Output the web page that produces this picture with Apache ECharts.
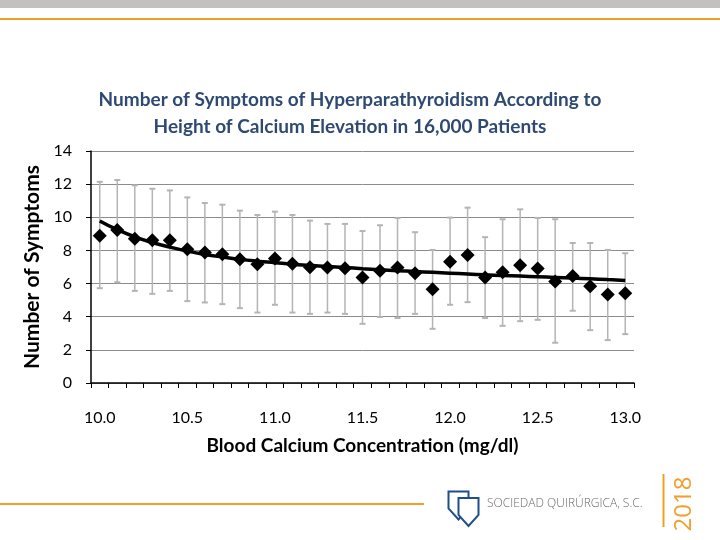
<!DOCTYPE html>
<html>
<head>
<meta charset="utf-8">
<script src="https://cdn.jsdelivr.net/npm/echarts@6/dist/echarts.min.js"></script>
<style>html,body{margin:0;padding:0;background:#fff;}#c{width:720px;height:540px;}</style>
</head>
<body>
<div id="c"></div>
<script>
const categories = ['10.0','10.1','10.2','10.3','10.4','10.5','10.6','10.7','10.8','10.9','11.0','11.1','11.2','11.3','11.4','11.5','11.6','11.7','11.8','11.9','12.0','12.1','12.2','12.3','12.4','12.5','12.6','12.7','12.8','12.9','13.0'];
const means = [8.89, 9.23, 8.71, 8.61, 8.61, 8.07, 7.87, 7.77, 7.47, 7.17, 7.51, 7.19, 6.99, 6.97, 6.93, 6.36, 6.77, 6.97, 6.62, 5.66, 7.31, 7.73, 6.36, 6.69, 7.11, 6.91, 6.12, 6.46, 5.84, 5.34, 5.42];
const upper = [12.14, 12.25, 11.93, 11.72, 11.62, 11.2, 10.86, 10.76, 10.4, 10.14, 10.34, 10.14, 9.8, 9.6, 9.6, 9.17, 9.52, 9.96, 9.1, 8.03, 9.98, 10.58, 8.8, 9.88, 10.48, 9.96, 9.88, 8.45, 8.45, 8.03, 7.83];
const lower = [5.72, 6.08, 5.56, 5.38, 5.56, 4.94, 4.86, 4.76, 4.52, 4.25, 4.72, 4.25, 4.17, 4.25, 4.17, 3.57, 3.98, 3.92, 4.17, 3.27, 4.72, 4.88, 3.92, 3.45, 3.73, 3.81, 2.43, 4.36, 3.19, 2.59, 2.95];
const trend = [9.78, 9.25, 8.82, 8.48, 8.2, 7.96, 7.76, 7.6, 7.46, 7.35, 7.26, 7.17, 7.1, 7.03, 6.97, 6.9, 6.84, 6.78, 6.73, 6.68, 6.63, 6.58, 6.53, 6.49, 6.45, 6.41, 6.37, 6.33, 6.29, 6.24, 6.19];
const yTicks = [0, 2, 4, 6, 8, 10, 12, 14];

const chart = echarts.init(document.getElementById('c'));
const errData = categories.map((c, i) => [i, lower[i], upper[i]]);

function shield(x, y, w, h) {
  return [[x, y], [x + w, y], [x + w, y + h * 0.6], [x + w / 2, y + h], [x, y + h * 0.6]];
}

chart.setOption({
  animation: false,
  title: {
    text: 'Number of Symptoms of Hyperparathyroidism According to\nHeight of Calcium Elevation in 16,000 Patients',
    left: 345, top: 81, textAlign: 'center',
    textStyle: { fontFamily: 'Lato', fontSize: 19, fontWeight: 'bold', color: '#2E4A73', lineHeight: 27 }
  },
  grid: { left: 91, right: 86, top: 151, bottom: 157 },
  xAxis: {
    type: 'category', data: categories, boundaryGap: true,
    name: 'Blood Calcium Concentration (mg/dl)', nameLocation: 'middle', nameGap: 53,
    nameTextStyle: { fontFamily: 'Lato', fontSize: 19, fontWeight: 'bold', color: '#000' },
    axisLine: { lineStyle: { color: '#000', width: 1.5 } },
    axisTick: { show: true, interval: 0, length: 5, lineStyle: { color: '#000' } },
    axisLabel: { interval: 4, fontFamily: 'Lato', fontSize: 16, color: '#000', margin: 27 },
    splitLine: { show: false }
  },
  yAxis: {
    type: 'value', min: 0, max: 14, interval: 2,
    name: 'Number of Symptoms', nameLocation: 'middle', nameGap: 45,
    nameTextStyle: { fontFamily: 'Lato', fontSize: 21, fontWeight: 'bold', color: '#000' },
    axisLine: { show: true, lineStyle: { color: '#000', width: 1.5 } },
    axisTick: { show: true, length: 5, lineStyle: { color: '#000' } },
    axisLabel: { fontFamily: 'Lato', fontSize: 16, color: '#000', margin: 19,
      formatter: v => yTicks.includes(v) ? String(v) : '' },
    splitLine: { lineStyle: { color: '#8c8c8c', width: 1 } }
  },
  series: [
    {
      type: 'custom', data: errData, z: 2,
      renderItem: function (params, api) {
        const i = api.value(0);
        const lo = api.coord([i, api.value(1)]);
        const hi = api.coord([i, api.value(2)]);
        const cw = 3;
        const st = { stroke: '#b4b4b4', lineWidth: 1.5 };
        return { type: 'group', children: [
          { type: 'line', shape: { x1: lo[0], y1: lo[1], x2: hi[0], y2: hi[1] }, style: st },
          { type: 'line', shape: { x1: lo[0] - cw, y1: lo[1], x2: lo[0] + cw, y2: lo[1] }, style: { stroke: '#b4b4b4', lineWidth: 2 } },
          { type: 'line', shape: { x1: hi[0] - cw, y1: hi[1], x2: hi[0] + cw, y2: hi[1] }, style: { stroke: '#b4b4b4', lineWidth: 2 } }
        ] };
      }
    },
    {
      type: 'line', data: trend, smooth: true, showSymbol: false, z: 3,
      lineStyle: { color: '#000', width: 3.5 }
    },
    {
      type: 'scatter', data: means, symbol: 'diamond', symbolSize: 14, z: 4,
      itemStyle: { color: '#000', opacity: 1 }
    }
  ],
  graphic: [
    { type: 'rect', shape: { x: 0, y: 0, width: 720, height: 8 }, style: { fill: '#c4c0c0' } },
    { type: 'rect', shape: { x: 0, y: 18, width: 720, height: 2 }, style: { fill: '#f0a020' } },
    { type: 'rect', shape: { x: 0, y: 503, width: 424, height: 2 }, style: { fill: '#f0a020' } },
    { type: 'rect', shape: { x: 662.5, y: 474, width: 2, height: 53 }, style: { fill: '#f0a020' } },
    { type: 'polygon', shape: { points: shield(448.5, 491.5, 20, 28) }, style: { fill: '#fff', stroke: '#1f4e8c', lineWidth: 2 } },
    { type: 'polygon', shape: { points: shield(458.5, 498, 20, 28) }, style: { fill: '#fff', stroke: '#1f4e8c', lineWidth: 2 } },
    { type: 'text', x: 487, y: 504, style: { text: 'SOCIEDAD QUIRÚRGICA, S.C.', font: '300 12px "Open Sans"', fill: '#6a6a6a', textVerticalAlign: 'middle' } },
    { type: 'text', x: 684, y: 504, rotation: Math.PI / 2, style: { text: '2018', font: '24px "Open Sans"', fill: '#f0a030', textAlign: 'center', textVerticalAlign: 'middle' } }
  ]
});
</script>
</body>
</html>
